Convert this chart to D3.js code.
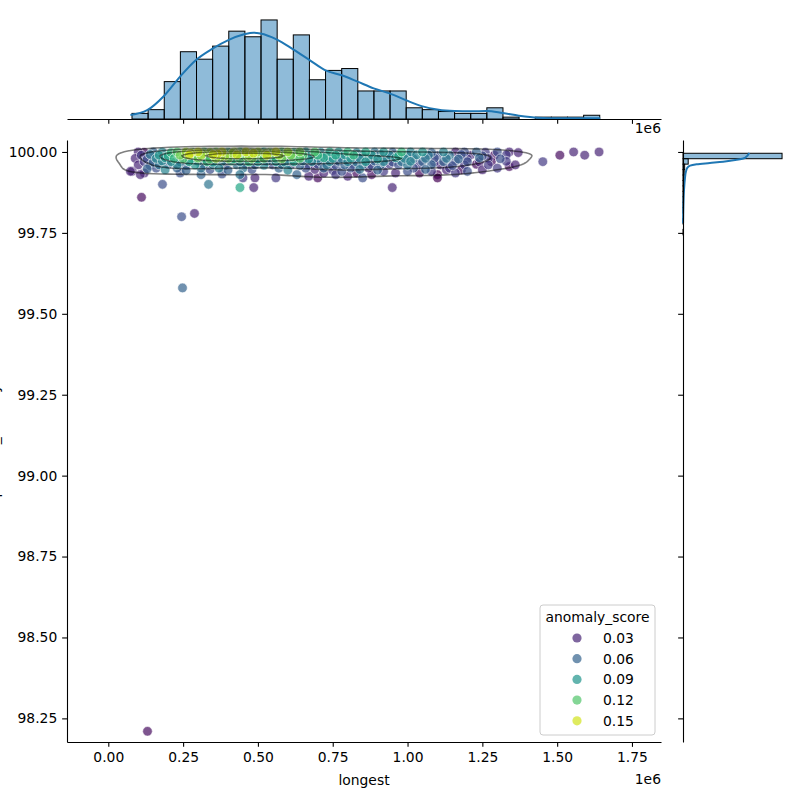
<!DOCTYPE html>
<html>
<head>
<meta charset="utf-8">
<script src="https://cdn.jsdelivr.net/npm/d3@7"></script>
<style>
body { margin: 0; background: #fff; }
text { font-family: "DejaVu Sans", sans-serif; fill: #000; }
</style>
</head>
<body>
<svg id="chart" width="800" height="800"></svg>
<script>
'use strict';

// scatter points: [longest (1e6), y value, anomaly_score]
const points = [
  // band near 100.00
  [0.10,100.0,.03],[0.12,99.999,.02],[0.15,100.0,.06],[0.18,100.0,.08],[0.21,99.998,.11],[0.23,100.0,.12],
  [0.26,100.0,.14],[0.28,99.999,.13],[0.30,100.0,.15],[0.32,100.0,.12],[0.34,99.998,.14],[0.36,100.0,.13],
  [0.38,100.0,.15],[0.40,99.999,.11],[0.42,100.0,.14],[0.44,100.0,.12],[0.46,100.0,.15],[0.48,99.998,.13],
  [0.50,100.0,.14],[0.52,100.0,.10],[0.54,99.999,.13],[0.56,100.0,.15],[0.58,100.0,.12],[0.60,100.0,.14],
  [0.62,99.998,.11],[0.64,100.0,.13],[0.66,100.0,.09],[0.69,100.0,.12],[0.71,99.999,.08],[0.74,100.0,.10],
  [0.77,100.0,.09],[0.80,100.0,.11],[0.83,99.998,.08],[0.86,100.0,.10],[0.89,100.0,.07],[0.92,100.0,.09],
  [0.95,99.999,.06],[0.98,100.0,.11],[1.01,100.0,.08],[1.05,100.0,.09],[1.08,99.998,.06],[1.12,100.0,.08],
  [1.16,100.0,.03],[1.19,100.0,.05],[1.23,100.0,.06],[1.26,99.999,.04],[1.30,100.0,.05],[1.34,100.0,.03],
  [1.37,99.998,.03],[1.555,100.0,.03],[1.64,100.0,.03],
  [0.255,99.995,.13],[0.275,99.996,.15],[0.295,99.994,.12],[0.315,99.995,.14],[0.345,99.996,.13],[0.365,99.994,.15],
  [0.395,99.995,.12],[0.415,99.996,.14],[0.435,99.994,.13],[0.455,99.995,.11],[0.485,99.996,.15],[0.505,99.994,.12],
  [0.525,99.995,.14],[0.545,99.996,.13],[0.575,99.994,.11],[0.605,99.995,.12],[0.635,99.996,.10],
  // band near 99.99
  [0.11,99.99,.04],[0.14,99.992,.07],[0.17,99.99,.09],[0.20,99.988,.10],[0.24,99.99,.13],[0.27,99.991,.15],
  [0.29,99.99,.12],[0.31,99.989,.14],[0.33,99.99,.10],[0.35,99.992,.15],[0.37,99.99,.13],[0.39,99.988,.14],
  [0.41,99.99,.12],[0.43,99.991,.15],[0.45,99.99,.11],[0.47,99.989,.14],[0.49,99.99,.13],[0.51,99.992,.12],
  [0.53,99.99,.15],[0.55,99.988,.11],[0.57,99.99,.14],[0.59,99.991,.12],[0.61,99.99,.13],[0.63,99.989,.10],
  [0.65,99.99,.12],[0.68,99.992,.09],[0.70,99.99,.11],[0.73,99.988,.08],[0.76,99.99,.10],[0.79,99.991,.09],
  [0.82,99.99,.11],[0.85,99.989,.08],[0.88,99.99,.09],[0.91,99.992,.07],[0.94,99.99,.08],[0.97,99.988,.10],
  [1.00,99.99,.07],[1.03,99.991,.08],[1.07,99.99,.07],[1.10,99.989,.05],[1.14,99.99,.07],[1.18,99.992,.05],
  [1.21,99.99,.03],[1.25,99.988,.05],[1.29,99.99,.02],[1.33,99.991,.04],[1.509,99.99,.02],[1.592,99.99,.03],
  [0.335,99.985,.12],[0.375,99.984,.14],[0.425,99.986,.11],[0.465,99.985,.13],[0.515,99.984,.12],[0.565,99.986,.10],
  [0.615,99.985,.12],
  // band near 99.98
  [0.09,99.98,.03],[0.13,99.978,.05],[0.16,99.98,.08],[0.19,99.982,.09],[0.22,99.98,.11],[0.25,99.979,.12],
  [0.28,99.98,.10],[0.30,99.981,.13],[0.32,99.98,.09],[0.34,99.978,.12],[0.36,99.98,.14],[0.38,99.982,.10],
  [0.40,99.98,.13],[0.42,99.979,.11],[0.44,99.98,.12],[0.46,99.981,.09],[0.48,99.98,.13],[0.50,99.978,.10],
  [0.52,99.98,.12],[0.54,99.982,.09],[0.56,99.98,.11],[0.58,99.979,.13],[0.60,99.98,.08],[0.62,99.981,.10],
  [0.64,99.98,.12],[0.67,99.978,.09],[0.70,99.98,.08],[0.72,99.982,.10],[0.75,99.98,.09],[0.78,99.979,.07],
  [0.81,99.98,.09],[0.84,99.981,.08],[0.87,99.98,.07],[0.90,99.978,.09],[0.93,99.98,.07],[0.96,99.982,.09],
  [0.99,99.98,.08],[1.02,99.979,.06],[1.06,99.98,.07],[1.09,99.981,.05],[1.13,99.98,.07],[1.17,99.978,.06],
  [1.20,99.98,.04],[1.24,99.982,.06],[1.27,99.98,.04],[1.31,99.979,.05],
  // band near 99.97
  [0.12,99.97,.04],[0.15,99.968,.06],[0.18,99.972,.08],[0.21,99.97,.09],[0.24,99.969,.07],[0.27,99.97,.10],
  [0.30,99.971,.08],[0.33,99.97,.11],[0.35,99.968,.09],[0.38,99.97,.08],[0.41,99.972,.10],[0.44,99.97,.08],
  [0.47,99.969,.11],[0.50,99.97,.09],[0.53,99.971,.07],[0.56,99.97,.09],[0.59,99.968,.08],[0.62,99.97,.10],
  [0.65,99.972,.07],[0.68,99.97,.08],[0.71,99.969,.06],[0.74,99.97,.08],[0.77,99.971,.06],[0.80,99.97,.08],
  [0.83,99.968,.07],[0.86,99.97,.09],[0.89,99.972,.06],[0.92,99.97,.08],[0.95,99.969,.05],[0.98,99.97,.07],
  [1.01,99.971,.08],[1.05,99.97,.06],[1.09,99.968,.04],[1.12,99.97,.06],[1.16,99.972,.05],[1.20,99.97,.05],
  [1.24,99.969,.03],[1.28,99.97,.02],[1.33,99.971,.04],[1.452,99.97,.04],
  // band near 99.96
  [0.10,99.96,.03],[0.14,99.958,.05],[0.17,99.96,.07],[0.20,99.962,.05],[0.23,99.96,.08],[0.26,99.959,.06],
  [0.29,99.96,.09],[0.32,99.961,.06],[0.35,99.96,.08],[0.39,99.958,.05],[0.43,99.96,.07],[0.46,99.962,.05],
  [0.49,99.96,.06],[0.52,99.959,.08],[0.55,99.96,.05],[0.58,99.961,.07],[0.61,99.96,.05],[0.64,99.958,.06],
  [0.67,99.96,.04],[0.70,99.962,.05],[0.73,99.96,.07],[0.76,99.959,.05],[0.79,99.96,.06],[0.82,99.961,.05],
  [0.85,99.96,.07],[0.88,99.958,.05],[0.91,99.96,.06],[0.94,99.962,.04],[0.97,99.96,.05],[1.00,99.959,.07],
  [1.04,99.96,.04],[1.08,99.961,.06],[1.11,99.96,.03],[1.15,99.958,.05],[1.19,99.96,.04],[1.23,99.962,.02],
  [1.27,99.96,.04],[1.36,99.96,.03],[1.34,99.955,.02],
  // lower edge of band
  [0.08,99.94,.03],[0.13,99.948,.06],[0.16,99.95,.05],[0.19,99.945,.08],[0.23,99.95,.06],[0.26,99.943,.06],
  [0.31,99.95,.07],[0.34,99.946,.05],[0.37,99.95,.08],[0.40,99.944,.06],[0.45,99.95,.07],[0.48,99.946,.05],
  [0.57,99.95,.06],[0.60,99.944,.08],[0.66,99.95,.05],[0.69,99.946,.03],[0.72,99.95,.06],[0.75,99.943,.04],
  [0.81,99.95,.05],[0.84,99.946,.07],[0.87,99.95,.03],[0.90,99.944,.06],[1.02,99.95,.05],[1.06,99.946,.06],
  [1.14,99.95,.04],[1.18,99.945,.02],[1.13,99.945,.03],[1.25,99.945,.03],[1.30,99.95,.04],
  [0.12,99.935,.03],[0.24,99.935,.05],[0.31,99.93,.06],[0.38,99.932,.05],[0.44,99.93,.07],[0.45,99.92,.04],
  [0.49,99.92,.03],[0.56,99.92,.04],[0.63,99.93,.06],[0.67,99.925,.03],[0.70,99.92,.02],[0.76,99.93,.04],
  [0.80,99.925,.03],[0.85,99.92,.05],[0.88,99.93,.02],[1.10,99.93,.01],[1.10,99.92,.01],[1.16,99.935,.04],
  [0.72,99.935,.03],[0.78,99.94,.05],[0.83,99.935,.02],[0.92,99.94,.04],[0.96,99.935,.03],[1.00,99.94,.05],
  [1.04,99.935,.02],[1.08,99.94,.04],[1.20,99.94,.05],
  // outliers
  [0.074,99.94,.03],[0.107,99.93,.03],[0.181,99.90,.05],[0.335,99.90,.07],[0.44,99.89,.10],[0.486,99.89,.03],
  [0.949,99.89,.03],[0.111,99.86,.02],[0.245,99.80,.05],[0.288,99.81,.03],[0.248,99.58,.06],[0.131,98.21,.02]
];

// top marginal histogram of longest
const xBinStart = 0.0792;
const xBinWidth = 0.0539;
const xCounts = [3, 5, 20, 36, 32, 39, 47, 44, 53, 32, 45, 21, 26, 27, 15, 15, 15, 6, 5, 4, 3, 3, 6, 1, 0, 1, 1, 1, 2];
const xKdeAt = [0.074, 0.13, 0.186, 0.24, 0.294, 0.347, 0.401, 0.454, 0.485, 0.508, 0.564, 0.619, 0.674, 0.726,
  0.78, 0.833, 0.887, 0.94, 0.994, 1.047, 1.104, 1.157, 1.211, 1.264, 1.318, 1.372, 1.435, 1.508, 1.644];
const xKdeVal = [2.2, 4.7, 12.3, 22.7, 31.7, 37.5, 42.2, 45.3, 46.2, 45.8, 42.5, 37.1, 31.4, 26.0,
  23.4, 20.0, 16.4, 13.7, 10.1, 6.9, 5.0, 4.3, 4.1, 4.3, 3.2, 1.8, 0.7, 0.4, 0.4];

// right marginal histogram of the y value
const yBinTop = 99.996;
const yBinWidth = 0.0168;
const yCounts = [420, 22, 7, 5, 4, 3, 2, 2, 1, 1, 1, 0, 1, 0, 1];
const yKdeAt = [99.997, 99.982, 99.976, 99.970, 99.966, 99.962, 99.958, 99.951, 99.941, 99.917, 99.879, 99.83, 99.78];
const yKdeVal = [281, 263, 228, 170, 114, 58, 30, 18, 13, 8, 4, 1.5, 0.3];

const xTicks = [0, 0.25, 0.5, 0.75, 1.0, 1.25, 1.5, 1.75];
const yTicks = [98.25, 98.5, 98.75, 99.0, 99.25, 99.5, 99.75, 100.0];
const legendValues = [0.03, 0.06, 0.09, 0.12, 0.15];
const contourLevels = [0.145, 0.32, 0.5, 0.7, 0.88];

const svg = d3.select('#chart');
const M = { l: 67, r: 661, t: 140, b: 742 };
const TOP = { t: 15, b: 119 };
const RIGHT = { l: 683, r: 787 };
const fs = '13.89px';
const tick = 4.86;

const x = d3.scaleLinear().domain([-0.138, 1.847]).range([M.l, M.r]);
const y = d3.scaleLinear().domain([98.177, 100.037]).range([M.b, M.t]);
const hue = d3.scaleSequential(d3.interpolateViridis).domain([0.015, 0.16]);

function styleAxis(g)
{
    g.selectAll('.domain').attr('stroke', '#000').attr('stroke-width', 1.1);
    g.selectAll('.tick line').attr('stroke', '#000').attr('stroke-width', 1.1);
    g.selectAll('.tick text').style('font-size', fs).attr('fill', '#000');
}

// ---- top marginal ----
const topY = d3.scaleLinear().domain([0, d3.max(xCounts) * 1.05]).range([TOP.b, TOP.t]);
svg.append('g').selectAll('rect')
    .data(xCounts).enter().append('rect')
    .attr('x', (d, i) => x(xBinStart + i * xBinWidth))
    .attr('width', (d, i) => x(xBinStart + (i + 1) * xBinWidth) - x(xBinStart + i * xBinWidth))
    .attr('y', d => topY(d))
    .attr('height', d => TOP.b - topY(d))
    .attr('fill', 'rgba(31,119,180,0.5)')
    .attr('stroke', '#000')
    .attr('stroke-width', 1);

svg.append('path')
    .datum(xKdeAt.map((v, i) => [v, xKdeVal[i]]))
    .attr('fill', 'none')
    .attr('stroke', '#1f77b4')
    .attr('stroke-width', 2)
    .attr('d', d3.line().x(d => x(d[0])).y(d => topY(d[1])).curve(d3.curveMonotoneX));

const topAxis = svg.append('g').attr('transform', 'translate(0,' + TOP.b + ')')
    .call(d3.axisBottom(x).tickValues(xTicks).tickFormat('').tickSize(tick).tickSizeOuter(0));
styleAxis(topAxis);
svg.append('text').attr('x', M.r).attr('y', 133).attr('text-anchor', 'end').style('font-size', fs).text('1e6');

// ---- right marginal ----
const rightX = d3.scaleLinear().domain([0, d3.max(yCounts) * 1.05]).range([RIGHT.l, RIGHT.r]);
svg.append('g').selectAll('rect')
    .data(yCounts.map((c, i) => ({ c: c, i: i })).filter(d => d.c > 0)).enter().append('rect')
    .attr('x', RIGHT.l)
    .attr('y', d => y(yBinTop - d.i * yBinWidth))
    .attr('height', d => y(yBinTop - (d.i + 1) * yBinWidth) - y(yBinTop - d.i * yBinWidth))
    .attr('width', d => rightX(d.c) - RIGHT.l)
    .attr('fill', 'rgba(31,119,180,0.5)')
    .attr('stroke', '#000')
    .attr('stroke-width', 1);

svg.append('path')
    .datum(yKdeAt.map((v, i) => [v, yKdeVal[i]]))
    .attr('fill', 'none')
    .attr('stroke', '#1f77b4')
    .attr('stroke-width', 2)
    .attr('d', d3.line().x(d => rightX(d[1])).y(d => y(d[0])).curve(d3.curveMonotoneY));

const rightAxis = svg.append('g').attr('transform', 'translate(' + RIGHT.l + ',0)')
    .call(d3.axisLeft(y).tickValues(yTicks).tickFormat('').tickSize(tick).tickSizeOuter(0));
styleAxis(rightAxis);

// ---- main scatter ----
svg.append('g').selectAll('circle')
    .data(points.slice().sort((a, b) => a[2] - b[2])).enter().append('circle')
    .attr('cx', d => x(d[0]))
    .attr('cy', d => y(d[1]))
    .attr('r', 4.8)
    .attr('fill', d => hue(d[2]))
    .attr('fill-opacity', 0.7)
    .attr('stroke', '#fff')
    .attr('stroke-opacity', 0.7)
    .attr('stroke-width', 0.8);

// kde contours, computed in a space squeezed along x so the kernel is wider in x
const k = 8;
const density = d3.contourDensity()
    .x(d => (x(d[0]) - M.l) / k)
    .y(d => y(d[1]) - M.t)
    .size([(M.r - M.l) / k, M.b - M.t])
    .cellSize(1)
    .bandwidth(3.7);
let contourSet;
if (typeof density.contours === 'function')
{
    const c = density.contours(points);
    contourSet = contourLevels.map(f => c(f * c.max));
}
else
{
    const all = density.thresholds(20)(points);
    contourSet = all.filter((d, i) => i % 4 === 2);
}
svg.append('g')
    .attr('transform', 'translate(' + M.l + ',' + M.t + ') scale(' + k + ',1)')
    .selectAll('path')
    .data(contourSet).enter().append('path')
    .attr('d', d3.geoPath())
    .attr('fill', 'none')
    .attr('stroke', '#000')
    .attr('stroke-opacity', 0.5)
    .attr('stroke-width', 1.6)
    .attr('vector-effect', 'non-scaling-stroke');

const xAxis = svg.append('g').attr('transform', 'translate(0,' + M.b + ')')
    .call(d3.axisBottom(x).tickValues(xTicks).tickFormat(d3.format('.2f')).tickSize(tick).tickPadding(tick).tickSizeOuter(0));
styleAxis(xAxis);
const yAxis = svg.append('g').attr('transform', 'translate(' + M.l + ',0)')
    .call(d3.axisLeft(y).tickValues(yTicks).tickFormat(d3.format('.2f')).tickSize(tick).tickPadding(tick).tickSizeOuter(0));
styleAxis(yAxis);

svg.append('text').attr('x', (M.l + M.r) / 2).attr('y', 785).attr('text-anchor', 'middle').style('font-size', fs).text('longest');
svg.append('text').attr('x', M.r).attr('y', 784).attr('text-anchor', 'end').style('font-size', fs).text('1e6');
svg.append('text')
    .attr('transform', 'translate(-1,' + ((M.t + M.b) / 2) + ') rotate(-90)')
    .attr('text-anchor', 'middle').style('font-size', fs).text('percent_identity');

// ---- legend ----
const lg = svg.append('g').attr('transform', 'translate(540,605)');
lg.append('rect').attr('width', 115).attr('height', 130).attr('rx', 3)
    .attr('fill', '#fff').attr('fill-opacity', 0.8).attr('stroke', '#ccc');
lg.append('text').attr('x', 57.5).attr('y', 17).attr('text-anchor', 'middle').style('font-size', fs).text('anomaly_score');
const items = lg.selectAll('g.item').data(legendValues).enter().append('g')
    .attr('class', 'item')
    .attr('transform', (d, i) => 'translate(0,' + (33 + i * 20.7) + ')');
items.append('circle').attr('cx', 37).attr('cy', 0).attr('r', 4.6)
    .attr('fill', d => hue(d)).attr('fill-opacity', 0.7);
items.append('text').attr('x', 63).attr('y', 5).style('font-size', fs).text(d => d.toFixed(2));
</script>
</body>
</html>
